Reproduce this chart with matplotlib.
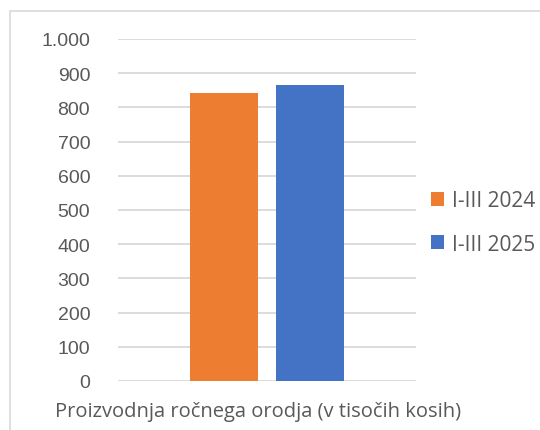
import matplotlib
matplotlib.use("Agg")
import matplotlib.pyplot as plt
from matplotlib.patches import Rectangle

series = ["I-III 2024", "I-III 2025"]
values = [842, 866]
colors = ["#ED7D31", "#4472C4"]
yticks = [0, 100, 200, 300, 400, 500, 600, 700, 800, 900, 1000]
ytick_labels = ["0", "100", "200", "300", "400", "500", "600", "700", "800", "900", "1.000"]
xlabel = "Proizvodnja ročnega orodja (v tisočih kosih)"

W, H = 540, 431
fig = plt.figure(figsize=(W / 100, H / 100), dpi=100)
fig.patch.set_facecolor("white")
fig.add_artist(Rectangle((10 / W, -0.1), 1.2, (H - 12) / H + 0.1, transform=fig.transFigure,
                         fill=False, edgecolor="#D9D9D9", linewidth=1.2))

ax = fig.add_axes([118 / W, (H - 382) / H, 298 / W, 342 / H])
offsets = [-43, 43]
for s, v, c, o in zip(series, values, colors, offsets):
    ax.bar(o, v, width=68, color=c, label=s, zorder=3)
ax.set_xlim(-149, 149)
ax.set_ylim(0, 1000)
ax.set_yticks(yticks)
ax.set_yticklabels(ytick_labels, fontsize=14, color="#595959", family="Liberation Sans")
ax.set_xticks([])
ax.tick_params(axis="y", length=0, pad=20)
ax.grid(axis="y", color="#D9D9D9", linewidth=1.3, zorder=0)
for sp in ax.spines.values():
    sp.set_visible(False)
ax.set_xlabel(xlabel, fontsize=14.5, color="#595959", family="Open Sans", va="center")
ax.xaxis.set_label_coords((258 - 118) / 298, (382 - 412) / 342)

leg = fig.legend(loc="center left", bbox_to_anchor=(431 / W, (H - 223.5) / H), frameon=False,
                 borderpad=0, borderaxespad=0,
                 handlelength=0.62, handleheight=0.62, handletextpad=0.38, labelspacing=1.06,
                 prop={"family": "Open Sans", "size": 15})
for t in leg.get_texts():
    t.set_color("#595959")

fig.savefig("out.png", dpi=100)
